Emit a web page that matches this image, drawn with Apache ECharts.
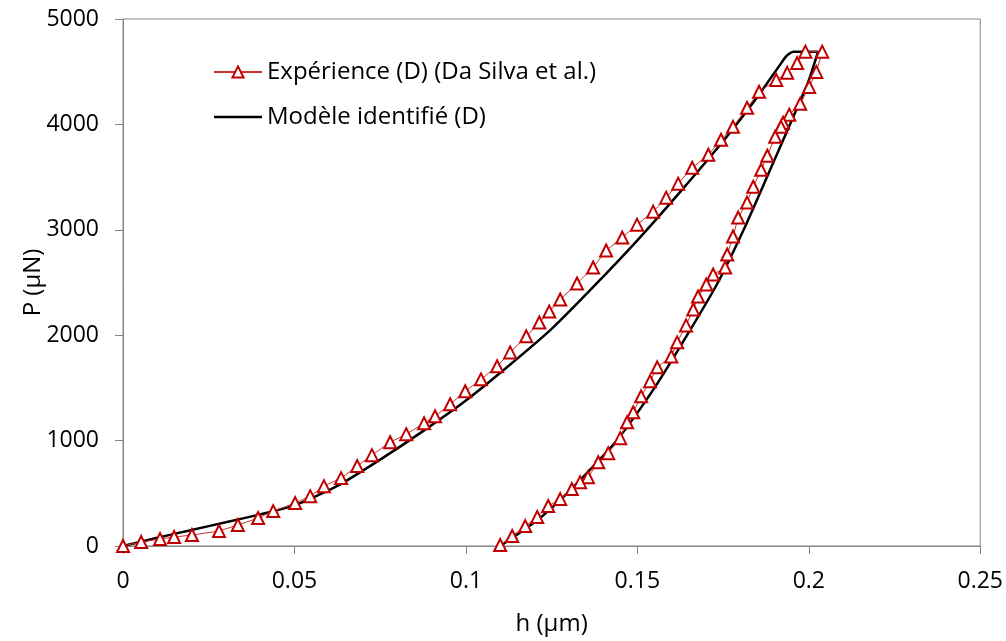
<!DOCTYPE html>
<html>
<head>
<meta charset="utf-8">
<script src="https://cdn.jsdelivr.net/npm/echarts@6/dist/echarts.min.js"></script>
<style>
  html, body { margin: 0; padding: 0; background: #fff; }
  #chart { width: 1006px; height: 641px; }
</style>
</head>
<body>
<div id="chart"></div>
<script>
// essai expérimental : charge puis décharge
var expH = [0, 0.0053, 0.0108, 0.0149, 0.0201, 0.0280, 0.0335, 0.0394, 0.0438, 0.0502,
  0.0546, 0.0586, 0.0636, 0.0683, 0.0726, 0.0779, 0.0826, 0.0878, 0.0910, 0.0954,
  0.0998, 0.1044, 0.1091, 0.1129, 0.1176, 0.1214, 0.1243, 0.1275, 0.1324, 0.1371,
  0.1409, 0.1456, 0.1499, 0.1546, 0.1584, 0.1619, 0.1660, 0.1707, 0.1744, 0.1779,
  0.1820, 0.1855, 0.1905, 0.1937, 0.1966, 0.1990,
  0.2039, 0.2022, 0.2001, 0.1975, 0.1943, 0.1925, 0.1919, 0.1902, 0.1879, 0.1861,
  0.1838, 0.1820, 0.1794, 0.1779, 0.1762, 0.1756, 0.1721, 0.1701, 0.1677, 0.1663,
  0.1642, 0.1616, 0.1599, 0.1558, 0.1537, 0.1511, 0.1488, 0.1470, 0.1450, 0.1415,
  0.1386, 0.1356, 0.1333, 0.1309, 0.1275, 0.1240, 0.1208, 0.1173, 0.1135, 0.1100];
var expP = [0, 38, 66, 85, 104, 142, 199, 265, 331, 407,
  473, 568, 644, 758, 862, 985, 1061, 1165, 1231, 1345,
  1468, 1581, 1705, 1837, 1989, 2121, 2225, 2339, 2491, 2642,
  2803, 2926, 3049, 3172, 3305, 3438, 3589, 3712, 3854, 3977,
  4157, 4309, 4422, 4489, 4583, 4690,
  4690, 4498, 4356, 4195, 4091, 4015, 3977, 3883, 3703, 3570,
  3409, 3258, 3116, 2936, 2765, 2642, 2576, 2481, 2367, 2244,
  2093, 1932, 1799, 1695, 1563, 1420, 1269, 1174, 1023, 881,
  795, 653, 606, 540, 445, 379, 275, 189, 95, 10];

// modèle identifié : charge
var modelLoadH = [0, 0.01, 0.02, 0.03, 0.04, 0.05, 0.0625, 0.075, 0.0875, 0.1,
  0.1125, 0.125, 0.1375, 0.15, 0.1625, 0.175, 0.185, 0.1915, 0.1935, 0.1955, 0.2027];
var modelLoadP = [0, 78, 152, 225, 300, 385, 570, 820, 1090, 1380,
  1710, 2060, 2470, 2900, 3360, 3840, 4260, 4560, 4650, 4690, 4690];
// modèle identifié : décharge
var modelUnloadH = [0.1998, 0.1945, 0.1878, 0.1810, 0.1735, 0.1645, 0.1550, 0.1440,
  0.1370, 0.1295, 0.1210, 0.1100];
var modelUnloadP = [4400, 4000, 3500, 3000, 2500, 2000, 1500, 1000,
  750, 500, 250, 0];

var expName = 'Expérience (D) (Da Silva et al.)';
var modelName = 'Modèle identifié (D)';

function pairs(xs, ys) {
  return xs.map(function (x, i) { return [x, ys[i]]; });
}

var font = '"Open Sans", sans-serif';
var chart = echarts.init(document.getElementById('chart'));
var option = {
  animation: false,
  textStyle: { fontFamily: font },
  grid: {
    left: 123, right: 25, top: 19, bottom: 94,
    show: true, borderColor: '#868686', borderWidth: 1
  },
  legend: {
    orient: 'vertical',
    left: 208, top: 55,
    itemWidth: 48, itemHeight: 14, itemGap: 21,
    textStyle: { fontFamily: font, fontSize: 24, color: '#000' },
    data: [
      expName,
      { name: modelName, icon: 'path://M0,0 L48,0 L48,2.5 L0,2.5 Z' }
    ]
  },
  xAxis: {
    type: 'value', min: 0, max: 0.25, interval: 0.05,
    name: 'h (μm)', nameLocation: 'middle', nameGap: 66,
    nameTextStyle: { fontFamily: font, fontSize: 24, color: '#000' },
    axisLine: { lineStyle: { color: '#868686' } },
    axisTick: { show: true, length: 8, lineStyle: { color: '#868686' } },
    axisLabel: { margin: 24, fontSize: 23, color: '#000', fontFamily: font },
    splitLine: { show: false }
  },
  yAxis: {
    type: 'value', min: 0, max: 5000, interval: 1000,
    name: 'P (μN)', nameLocation: 'middle', nameGap: 78,
    nameMoveOverlap: false,
    nameTextStyle: { fontFamily: font, fontSize: 24, color: '#000' },
    axisLine: { show: true, lineStyle: { color: '#868686' } },
    axisTick: { show: true, length: 8, lineStyle: { color: '#868686' } },
    axisLabel: {
      margin: 24, fontSize: 23, color: '#000', fontFamily: font,
      formatter: function (v) { return String(v); }
    },
    splitLine: { show: false }
  },
  series: [{
    name: expName,
    type: 'line',
    data: pairs(expH, expP),
    symbol: 'triangle',
    symbolSize: 12,
    showAllSymbol: true,
    lineStyle: { color: '#D03030', width: 1 },
    itemStyle: { color: '#fff', borderColor: '#C00000', borderWidth: 2 },
    z: 3
  }, {
    name: modelName,
    type: 'line',
    data: pairs(modelLoadH.concat(modelUnloadH), modelLoadP.concat(modelUnloadP)),
    showSymbol: false,
    smooth: 0.2,
    lineStyle: { color: '#000', width: 2.5 },
    itemStyle: { color: '#000' },
    z: 2
  }]
};
chart.setOption(option);
window.addEventListener('resize', function () { chart.resize(); });
</script>
</body>
</html>
